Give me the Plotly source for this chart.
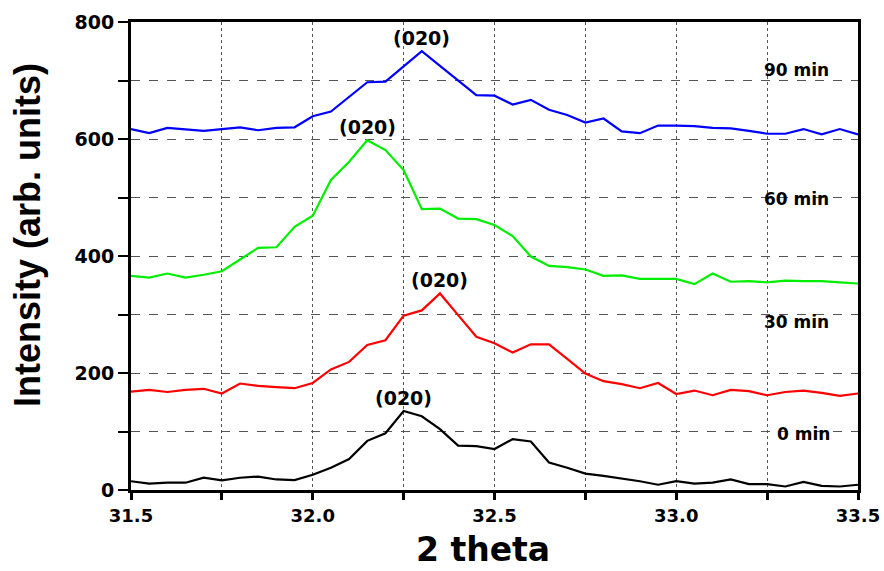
import numpy as np
import plotly.graph_objects as go

# 2-theta scan positions (step 0.05 deg)
two_theta = [round(31.5 + 0.05 * i, 2) for i in range(41)]

int_0min = [15, 11, 12.5, 12.5, 21, 16.5, 21, 23, 18, 17,
            26, 38, 53, 84, 97, 135, 126, 104, 76, 75,
            70, 87, 83, 47, 38, 28, 24, 20, 15, 9,
            15, 11, 12.5, 18, 10, 10, 6, 14, 7, 6, 9]

int_30min = [168, 171, 167.5, 171, 173, 165, 182, 178, 176, 174,
             183, 206, 219, 248, 256, 298, 307, 336, 299, 262,
             251, 235, 249, 249, 224, 199, 186, 181, 174, 183,
             164, 170, 162, 171, 169, 162, 167.5, 170, 166, 161, 165]

int_60min = [366, 363, 370, 363, 368, 374, 394, 414, 415, 450,
             469, 530, 561, 598, 581, 547, 480, 481, 464, 463,
             453, 434, 399, 383, 381, 377, 366, 367, 361, 361,
             361, 352, 370, 356, 357, 355, 358, 357, 357, 355, 353]

int_90min = [617, 610, 619, 616, 614, 617, 620, 615, 619, 620,
             639, 647, 672, 697, 698, 724, 750, 725, 700, 675,
             674, 659, 667, 650, 641, 628, 635, 613, 610, 623,
             623, 622, 619, 618, 614, 609, 609, 617, 608, 617, 608]

series = [
    ("0 min", int_0min, "#000000"),
    ("30 min", int_30min, "#ff0000"),
    ("60 min", int_60min, "#00ee00"),
    ("90 min", int_90min, "#0000ff"),
]

# curve label positions (x, y in data units)
curve_labels = {"0 min": (33.35, 96), "30 min": (33.33, 288),
                "60 min": (33.33, 497), "90 min": (33.33, 718)}

FONT = "Liberation Sans, Arial, sans-serif"
WIDE = "DejaVu Sans, Verdana, sans-serif"

fig = go.Figure()
for name, vals, color in series:
    fig.add_trace(go.Scatter(x=two_theta, y=vals, mode="lines", name=name,
                             line=dict(color=color, width=2.2), showlegend=False))
    # peak label
    k = int(np.argmax(vals))
    fig.add_annotation(x=two_theta[k], y=vals[k], text="<b>(020)</b>",
                       showarrow=False, yanchor="bottom", yshift=0,
                       font=dict(family=WIDE, size=19, color="black"))
    lx, ly = curve_labels[name]
    fig.add_annotation(x=lx, y=ly, text=f"<b>{name}</b>", showarrow=False,
                       xanchor="center", yanchor="middle",
                       font=dict(family=WIDE, size=17, color="black"))

# axis titles placed in paper coordinates
fig.add_annotation(xref="paper", yref="paper", x=-0.1417, y=0.545,
                   text="<b>Intensity (arb. units)</b>", textangle=-90,
                   showarrow=False, xanchor="center", yanchor="middle",
                   font=dict(family=FONT, size=36, color="black"))
fig.add_annotation(xref="paper", yref="paper", x=0.484, y=-0.128,
                   text="<b>2 theta</b>", showarrow=False,
                   xanchor="center", yanchor="middle",
                   font=dict(family=WIDE, size=33, color="black"))

xticks = [31.5 + 0.25 * i for i in range(9)]
xtext = [f"<b>{v:.1f}</b>" if i % 2 == 0 else "" for i, v in enumerate(xticks)]
yticks = list(range(0, 801, 100))
ytext = [f"<b>{v}</b>" if v % 200 == 0 else "" for v in yticks]

fig.update_layout(
    width=884, height=571,
    margin=dict(l=131, r=26, t=22, b=81),
    paper_bgcolor="white", plot_bgcolor="white",
    font=dict(family=FONT, color="black"),
    xaxis=dict(
        range=[31.5, 33.5], tickmode="array", tickvals=xticks, ticktext=xtext,
        showgrid=True, gridcolor="#555555", griddash="dot", gridwidth=1,
        showline=True, linecolor="black", linewidth=3, mirror=True,
        ticks="outside", ticklen=7, tickwidth=3, tickcolor="black",
        tickfont=dict(family=WIDE, size=18, color="black"),
        zeroline=False, automargin=False,
    ),
    yaxis=dict(
        range=[0, 800], tickmode="array", tickvals=yticks, ticktext=ytext,
        showgrid=True, gridcolor="#555555", griddash="dash", gridwidth=1,
        showline=True, linecolor="black", linewidth=3, mirror=True,
        ticks="outside", ticklen=10, tickwidth=2, tickcolor="black",
        tickfont=dict(family=WIDE, size=19, color="black"),
        zeroline=False, automargin=False,
    ),
)

fig.write_html("out.html")
